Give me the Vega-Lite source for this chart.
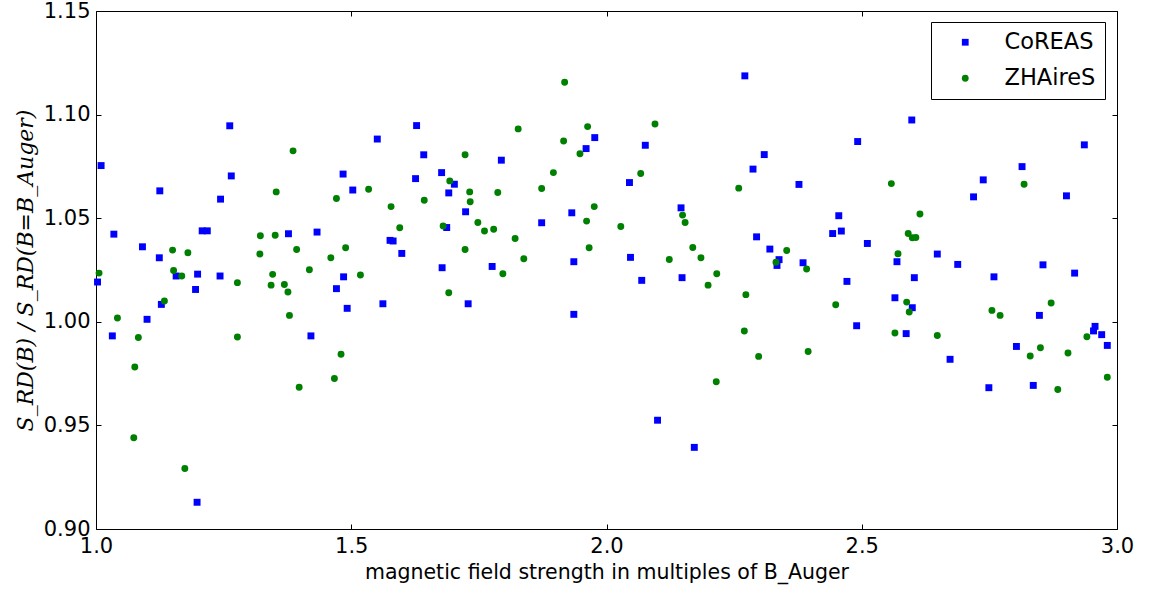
{
  "$schema": "https://vega.github.io/schema/vega-lite/v6.json",
  "width": 1021,
  "height": 518,
  "autosize": {"type": "none"},
  "padding": {"left": 96, "top": 11, "right": 32, "bottom": 65},
  "background": "white",
  "config": {
    "font": "DejaVu Sans",
    "view": {"stroke": "black", "strokeWidth": 1},
    "axis": {
      "domain": false,
      "grid": false,
      "ticks": true,
      "tickSize": -5,
      "tickColor": "black",
      "tickWidth": 1,
      "labelFont": "DejaVu Sans",
      "labelFontSize": 21,
      "labelColor": "black",
      "labelPadding": 11,
      "labelFlush": false,
      "labelOverlap": false
    },
    "legend": {
      "orient": "none",
      "legendX": 835,
      "legendY": 11,
      "labelFont": "DejaVu Sans",
      "labelFontSize": 22.5,
      "labelColor": "black",
      "strokeColor": "black",
      "fillColor": "white",
      "padding": 9,
      "rowPadding": 13,
      "symbolOffset": 14,
      "labelOffset": 28,
      "symbolSize": 46,
      "symbolStrokeWidth": 0
    }
  },
  "data": {
    "values": [
      {"code": "CoREAS", "b": 1.010, "ratio": 1.0754},
      {"code": "CoREAS", "b": 1.262, "ratio": 1.0946},
      {"code": "CoREAS", "b": 1.265, "ratio": 1.0704},
      {"code": "CoREAS", "b": 1.125, "ratio": 1.0632},
      {"code": "CoREAS", "b": 1.244, "ratio": 1.0592},
      {"code": "CoREAS", "b": 1.484, "ratio": 1.0713},
      {"code": "CoREAS", "b": 1.503, "ratio": 1.0636},
      {"code": "CoREAS", "b": 1.035, "ratio": 1.0423},
      {"code": "CoREAS", "b": 1.091, "ratio": 1.0362},
      {"code": "CoREAS", "b": 1.124, "ratio": 1.0309},
      {"code": "CoREAS", "b": 1.208, "ratio": 1.0439},
      {"code": "CoREAS", "b": 1.218, "ratio": 1.0439},
      {"code": "CoREAS", "b": 1.377, "ratio": 1.0425},
      {"code": "CoREAS", "b": 1.433, "ratio": 1.0433},
      {"code": "CoREAS", "b": 1.003, "ratio": 1.0192},
      {"code": "CoREAS", "b": 1.032, "ratio": 0.9932},
      {"code": "CoREAS", "b": 1.100, "ratio": 1.0012},
      {"code": "CoREAS", "b": 1.128, "ratio": 1.0084},
      {"code": "CoREAS", "b": 1.157, "ratio": 1.0221},
      {"code": "CoREAS", "b": 1.199, "ratio": 1.0230},
      {"code": "CoREAS", "b": 1.195, "ratio": 1.0156},
      {"code": "CoREAS", "b": 1.243, "ratio": 1.0221},
      {"code": "CoREAS", "b": 1.198, "ratio": 0.9129},
      {"code": "CoREAS", "b": 1.421, "ratio": 0.9932},
      {"code": "CoREAS", "b": 1.471, "ratio": 1.0160},
      {"code": "CoREAS", "b": 1.485, "ratio": 1.0217},
      {"code": "CoREAS", "b": 1.492, "ratio": 1.0065},
      {"code": "CoREAS", "b": 1.628, "ratio": 1.0947},
      {"code": "CoREAS", "b": 1.551, "ratio": 1.0882},
      {"code": "CoREAS", "b": 1.977, "ratio": 1.0889},
      {"code": "CoREAS", "b": 1.960, "ratio": 1.0836},
      {"code": "CoREAS", "b": 1.642, "ratio": 1.0806},
      {"code": "CoREAS", "b": 1.794, "ratio": 1.0780},
      {"code": "CoREAS", "b": 1.677, "ratio": 1.0720},
      {"code": "CoREAS", "b": 1.626, "ratio": 1.0691},
      {"code": "CoREAS", "b": 1.702, "ratio": 1.0664},
      {"code": "CoREAS", "b": 1.691, "ratio": 1.0622},
      {"code": "CoREAS", "b": 1.724, "ratio": 1.0531},
      {"code": "CoREAS", "b": 1.932, "ratio": 1.0526},
      {"code": "CoREAS", "b": 1.873, "ratio": 1.0478},
      {"code": "CoREAS", "b": 1.687, "ratio": 1.0455},
      {"code": "CoREAS", "b": 1.576, "ratio": 1.0393},
      {"code": "CoREAS", "b": 1.582, "ratio": 1.0390},
      {"code": "CoREAS", "b": 1.599, "ratio": 1.0330},
      {"code": "CoREAS", "b": 1.936, "ratio": 1.0290},
      {"code": "CoREAS", "b": 1.678, "ratio": 1.0261},
      {"code": "CoREAS", "b": 1.776, "ratio": 1.0267},
      {"code": "CoREAS", "b": 1.562, "ratio": 1.0087},
      {"code": "CoREAS", "b": 1.729, "ratio": 1.0087},
      {"code": "CoREAS", "b": 1.936, "ratio": 1.0036},
      {"code": "CoREAS", "b": 2.271, "ratio": 1.1187},
      {"code": "CoREAS", "b": 2.076, "ratio": 1.0852},
      {"code": "CoREAS", "b": 2.492, "ratio": 1.0870},
      {"code": "CoREAS", "b": 2.309, "ratio": 1.0807},
      {"code": "CoREAS", "b": 2.287, "ratio": 1.0737},
      {"code": "CoREAS", "b": 2.045, "ratio": 1.0672},
      {"code": "CoREAS", "b": 2.377, "ratio": 1.0663},
      {"code": "CoREAS", "b": 2.146, "ratio": 1.0550},
      {"code": "CoREAS", "b": 2.455, "ratio": 1.0512},
      {"code": "CoREAS", "b": 2.443, "ratio": 1.0426},
      {"code": "CoREAS", "b": 2.460, "ratio": 1.0438},
      {"code": "CoREAS", "b": 2.294, "ratio": 1.0410},
      {"code": "CoREAS", "b": 2.320, "ratio": 1.0351},
      {"code": "CoREAS", "b": 2.047, "ratio": 1.0311},
      {"code": "CoREAS", "b": 2.338, "ratio": 1.0300},
      {"code": "CoREAS", "b": 2.334, "ratio": 1.0272},
      {"code": "CoREAS", "b": 2.385, "ratio": 1.0285},
      {"code": "CoREAS", "b": 2.069, "ratio": 1.0200},
      {"code": "CoREAS", "b": 2.148, "ratio": 1.0213},
      {"code": "CoREAS", "b": 2.100, "ratio": 0.9525},
      {"code": "CoREAS", "b": 2.172, "ratio": 0.9394},
      {"code": "CoREAS", "b": 2.471, "ratio": 1.0195},
      {"code": "CoREAS", "b": 2.490, "ratio": 0.9981},
      {"code": "CoREAS", "b": 2.598, "ratio": 1.0974},
      {"code": "CoREAS", "b": 2.936, "ratio": 1.0854},
      {"code": "CoREAS", "b": 2.814, "ratio": 1.0749},
      {"code": "CoREAS", "b": 2.738, "ratio": 1.0685},
      {"code": "CoREAS", "b": 2.719, "ratio": 1.0603},
      {"code": "CoREAS", "b": 2.901, "ratio": 1.0608},
      {"code": "CoREAS", "b": 2.511, "ratio": 1.0378},
      {"code": "CoREAS", "b": 2.569, "ratio": 1.0290},
      {"code": "CoREAS", "b": 2.648, "ratio": 1.0327},
      {"code": "CoREAS", "b": 2.688, "ratio": 1.0277},
      {"code": "CoREAS", "b": 2.855, "ratio": 1.0275},
      {"code": "CoREAS", "b": 2.917, "ratio": 1.0235},
      {"code": "CoREAS", "b": 2.603, "ratio": 1.0213},
      {"code": "CoREAS", "b": 2.759, "ratio": 1.0217},
      {"code": "CoREAS", "b": 2.565, "ratio": 1.0116},
      {"code": "CoREAS", "b": 2.599, "ratio": 1.0068},
      {"code": "CoREAS", "b": 2.848, "ratio": 1.0031},
      {"code": "CoREAS", "b": 2.587, "ratio": 0.9943},
      {"code": "CoREAS", "b": 2.957, "ratio": 0.9978},
      {"code": "CoREAS", "b": 2.954, "ratio": 0.9956},
      {"code": "CoREAS", "b": 2.970, "ratio": 0.9938},
      {"code": "CoREAS", "b": 2.981, "ratio": 0.9886},
      {"code": "CoREAS", "b": 2.803, "ratio": 0.9881},
      {"code": "CoREAS", "b": 2.673, "ratio": 0.9819},
      {"code": "CoREAS", "b": 2.749, "ratio": 0.9682},
      {"code": "CoREAS", "b": 2.836, "ratio": 0.9693},
      {"code": "ZHAireS", "b": 1.386, "ratio": 1.0825},
      {"code": "ZHAireS", "b": 1.353, "ratio": 1.0627},
      {"code": "ZHAireS", "b": 1.471, "ratio": 1.0595},
      {"code": "ZHAireS", "b": 1.322, "ratio": 1.0415},
      {"code": "ZHAireS", "b": 1.351, "ratio": 1.0418},
      {"code": "ZHAireS", "b": 1.150, "ratio": 1.0346},
      {"code": "ZHAireS", "b": 1.180, "ratio": 1.0333},
      {"code": "ZHAireS", "b": 1.321, "ratio": 1.0327},
      {"code": "ZHAireS", "b": 1.393, "ratio": 1.0349},
      {"code": "ZHAireS", "b": 1.460, "ratio": 1.0309},
      {"code": "ZHAireS", "b": 1.489, "ratio": 1.0357},
      {"code": "ZHAireS", "b": 1.006, "ratio": 1.0235},
      {"code": "ZHAireS", "b": 1.042, "ratio": 1.0018},
      {"code": "ZHAireS", "b": 1.083, "ratio": 0.9924},
      {"code": "ZHAireS", "b": 1.076, "ratio": 0.9782},
      {"code": "ZHAireS", "b": 1.074, "ratio": 0.9440},
      {"code": "ZHAireS", "b": 1.134, "ratio": 1.0100},
      {"code": "ZHAireS", "b": 1.152, "ratio": 1.0248},
      {"code": "ZHAireS", "b": 1.168, "ratio": 1.0221},
      {"code": "ZHAireS", "b": 1.174, "ratio": 0.9292},
      {"code": "ZHAireS", "b": 1.277, "ratio": 1.0189},
      {"code": "ZHAireS", "b": 1.277, "ratio": 0.9927},
      {"code": "ZHAireS", "b": 1.346, "ratio": 1.0229},
      {"code": "ZHAireS", "b": 1.343, "ratio": 1.0177},
      {"code": "ZHAireS", "b": 1.369, "ratio": 1.0180},
      {"code": "ZHAireS", "b": 1.376, "ratio": 1.0144},
      {"code": "ZHAireS", "b": 1.379, "ratio": 1.0031},
      {"code": "ZHAireS", "b": 1.418, "ratio": 1.0251},
      {"code": "ZHAireS", "b": 1.398, "ratio": 0.9684},
      {"code": "ZHAireS", "b": 1.480, "ratio": 0.9843},
      {"code": "ZHAireS", "b": 1.467, "ratio": 0.9726},
      {"code": "ZHAireS", "b": 1.918, "ratio": 1.1156},
      {"code": "ZHAireS", "b": 1.827, "ratio": 1.0931},
      {"code": "ZHAireS", "b": 1.963, "ratio": 1.0942},
      {"code": "ZHAireS", "b": 1.916, "ratio": 1.0873},
      {"code": "ZHAireS", "b": 1.948, "ratio": 1.0811},
      {"code": "ZHAireS", "b": 1.723, "ratio": 1.0806},
      {"code": "ZHAireS", "b": 1.896, "ratio": 1.0720},
      {"code": "ZHAireS", "b": 1.693, "ratio": 1.0680},
      {"code": "ZHAireS", "b": 1.732, "ratio": 1.0627},
      {"code": "ZHAireS", "b": 1.787, "ratio": 1.0624},
      {"code": "ZHAireS", "b": 1.873, "ratio": 1.0643},
      {"code": "ZHAireS", "b": 1.534, "ratio": 1.0640},
      {"code": "ZHAireS", "b": 1.578, "ratio": 1.0556},
      {"code": "ZHAireS", "b": 1.643, "ratio": 1.0587},
      {"code": "ZHAireS", "b": 1.733, "ratio": 1.0579},
      {"code": "ZHAireS", "b": 1.976, "ratio": 1.0556},
      {"code": "ZHAireS", "b": 1.961, "ratio": 1.0486},
      {"code": "ZHAireS", "b": 1.748, "ratio": 1.0479},
      {"code": "ZHAireS", "b": 1.761, "ratio": 1.0438},
      {"code": "ZHAireS", "b": 1.779, "ratio": 1.0447},
      {"code": "ZHAireS", "b": 1.595, "ratio": 1.0454},
      {"code": "ZHAireS", "b": 1.680, "ratio": 1.0462},
      {"code": "ZHAireS", "b": 1.821, "ratio": 1.0402},
      {"code": "ZHAireS", "b": 1.723, "ratio": 1.0349},
      {"code": "ZHAireS", "b": 1.966, "ratio": 1.0357},
      {"code": "ZHAireS", "b": 1.838, "ratio": 1.0304},
      {"code": "ZHAireS", "b": 1.518, "ratio": 1.0226},
      {"code": "ZHAireS", "b": 1.691, "ratio": 1.0140},
      {"code": "ZHAireS", "b": 1.797, "ratio": 1.0232},
      {"code": "ZHAireS", "b": 2.095, "ratio": 1.0955},
      {"code": "ZHAireS", "b": 2.067, "ratio": 1.0716},
      {"code": "ZHAireS", "b": 2.259, "ratio": 1.0645},
      {"code": "ZHAireS", "b": 2.149, "ratio": 1.0515},
      {"code": "ZHAireS", "b": 2.154, "ratio": 1.0479},
      {"code": "ZHAireS", "b": 2.028, "ratio": 1.0460},
      {"code": "ZHAireS", "b": 2.353, "ratio": 1.0344},
      {"code": "ZHAireS", "b": 2.169, "ratio": 1.0359},
      {"code": "ZHAireS", "b": 2.123, "ratio": 1.0301},
      {"code": "ZHAireS", "b": 2.185, "ratio": 1.0309},
      {"code": "ZHAireS", "b": 2.332, "ratio": 1.0288},
      {"code": "ZHAireS", "b": 2.392, "ratio": 1.0255},
      {"code": "ZHAireS", "b": 2.216, "ratio": 1.0232},
      {"code": "ZHAireS", "b": 2.199, "ratio": 1.0177},
      {"code": "ZHAireS", "b": 2.273, "ratio": 1.0131},
      {"code": "ZHAireS", "b": 2.270, "ratio": 0.9956},
      {"code": "ZHAireS", "b": 2.298, "ratio": 0.9833},
      {"code": "ZHAireS", "b": 2.215, "ratio": 0.9711},
      {"code": "ZHAireS", "b": 2.449, "ratio": 1.0082},
      {"code": "ZHAireS", "b": 2.395, "ratio": 0.9857},
      {"code": "ZHAireS", "b": 2.558, "ratio": 1.0667},
      {"code": "ZHAireS", "b": 2.818, "ratio": 1.0664},
      {"code": "ZHAireS", "b": 2.614, "ratio": 1.0520},
      {"code": "ZHAireS", "b": 2.591, "ratio": 1.0426},
      {"code": "ZHAireS", "b": 2.599, "ratio": 1.0406},
      {"code": "ZHAireS", "b": 2.606, "ratio": 1.0407},
      {"code": "ZHAireS", "b": 2.571, "ratio": 1.0328},
      {"code": "ZHAireS", "b": 2.588, "ratio": 1.0095},
      {"code": "ZHAireS", "b": 2.593, "ratio": 1.0047},
      {"code": "ZHAireS", "b": 2.871, "ratio": 1.0091},
      {"code": "ZHAireS", "b": 2.755, "ratio": 1.0055},
      {"code": "ZHAireS", "b": 2.771, "ratio": 1.0031},
      {"code": "ZHAireS", "b": 2.565, "ratio": 0.9946},
      {"code": "ZHAireS", "b": 2.648, "ratio": 0.9934},
      {"code": "ZHAireS", "b": 2.941, "ratio": 0.9928},
      {"code": "ZHAireS", "b": 2.850, "ratio": 0.9875},
      {"code": "ZHAireS", "b": 2.830, "ratio": 0.9835},
      {"code": "ZHAireS", "b": 2.904, "ratio": 0.9849},
      {"code": "ZHAireS", "b": 2.884, "ratio": 0.9673},
      {"code": "ZHAireS", "b": 2.981, "ratio": 0.9732}
    ]
  },
  "layer": [
    {
      "mark": {"type": "point", "filled": true, "opacity": 1, "size": 48, "strokeWidth": 0},
      "encoding": {
        "x": {
          "field": "b", "type": "quantitative",
          "scale": {"domain": [1, 3], "nice": false, "zero": false},
          "axis": {
            "orient": "bottom",
            "values": [1, 1.5, 2, 2.5, 3],
            "format": ".1f",
            "title": "magnetic field strength in multiples of B_Auger",
            "titleFont": "DejaVu Sans",
            "titleFontSize": 20.5,
            "titleFontWeight": "normal",
            "titleColor": "black",
            "titlePadding": 6
          }
        },
        "y": {
          "field": "ratio", "type": "quantitative",
          "scale": {"domain": [0.9, 1.15], "nice": false, "zero": false},
          "axis": {
            "orient": "left",
            "values": [0.9, 0.95, 1.0, 1.05, 1.1, 1.15],
            "format": ".2f",
            "title": "S_RD(B) / S_RD(B=B_Auger)",
            "titleFont": "DejaVu Serif",
            "titleFontStyle": "italic",
            "titleFontSize": 22,
            "titleFontWeight": "normal",
            "titleColor": "black",
            "titlePadding": 6
          }
        },
        "color": {
          "field": "code", "type": "nominal",
          "scale": {"domain": ["CoREAS", "ZHAireS"], "range": ["#0000ff", "#008000"]},
          "legend": {"title": null}
        },
        "shape": {
          "field": "code", "type": "nominal",
          "scale": {"domain": ["CoREAS", "ZHAireS"], "range": ["square", "circle"]},
          "legend": {"title": null}
        }
      }
    },
    {
      "mark": {"type": "point", "opacity": 0},
      "encoding": {
        "x": {
          "field": "b", "type": "quantitative",
          "scale": {"domain": [1, 3], "nice": false, "zero": false},
          "axis": {"orient": "top", "values": [1, 1.5, 2, 2.5, 3], "labels": false, "title": null}
        },
        "y": {
          "field": "ratio", "type": "quantitative",
          "scale": {"domain": [0.9, 1.15], "nice": false, "zero": false},
          "axis": {"orient": "right", "values": [0.9, 0.95, 1.0, 1.05, 1.1, 1.15], "labels": false, "title": null}
        }
      }
    }
  ],
  "resolve": {"axis": {"x": "independent", "y": "independent"}}
}
